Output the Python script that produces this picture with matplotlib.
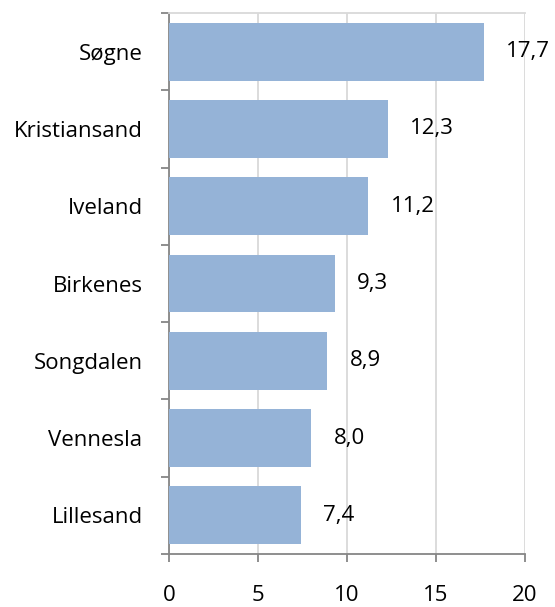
import numpy as np
import matplotlib.pyplot as plt
from matplotlib.ticker import FixedLocator

# data
kommuner = ['Søgne', 'Kristiansand', 'Iveland', 'Birkenes', 'Songdalen', 'Vennesla', 'Lillesand']
verdier = [17.7, 12.3, 11.2, 9.3, 8.9, 8.0, 7.4]
xticks = [0, 5, 10, 15, 20]

plt.rcParams['font.family'] = ['Open Sans', 'DejaVu Sans']
axis_grey = '#868686'
grid_grey = '#d9d9d9'
bar_col = '#95b3d7'

fig = plt.figure(figsize=(5.55, 6.07), dpi=100)
ax = fig.add_axes([169/555, 1 - 554/607, (525 - 169)/555, (554 - 13)/607])

y = np.arange(len(kommuner))
ax.barh(y, verdier, height=0.75, color=bar_col, zorder=3)
for yi, v in zip(y, verdier):
    ax.annotate(f'{v:.1f}'.replace('.', ','), (v, yi), xytext=(16, 0),
                textcoords='offset points', va='center', ha='left',
                fontsize=16, color='black', zorder=4)

ax.set_ylim(len(kommuner) - 0.5, -0.5)
ax.set_xlim(0, 20)
ax.set_xticks(xticks)
ax.set_xticklabels([str(t) for t in xticks])
ax.set_yticks(y)
ax.set_yticklabels(kommuner)
ax.yaxis.set_minor_locator(FixedLocator(np.arange(-0.5, len(kommuner), 1)))

ax.tick_params(axis='y', which='major', length=0, pad=19, labelsize=16)
ax.tick_params(axis='y', which='minor', length=6, width=1.3, color=axis_grey, direction='out')
ax.tick_params(axis='x', which='major', length=6, width=1.3, color=axis_grey, pad=16, labelsize=16)

ax.grid(axis='x', color=grid_grey, linewidth=1.3, zorder=0)
for s in ['left', 'bottom']:
    ax.spines[s].set_color(axis_grey)
    ax.spines[s].set_linewidth(1.3)
ax.spines['right'].set_visible(False)
ax.spines['top'].set_color(grid_grey)
ax.spines['top'].set_linewidth(1.3)

fig.savefig('out.png', dpi=100)
